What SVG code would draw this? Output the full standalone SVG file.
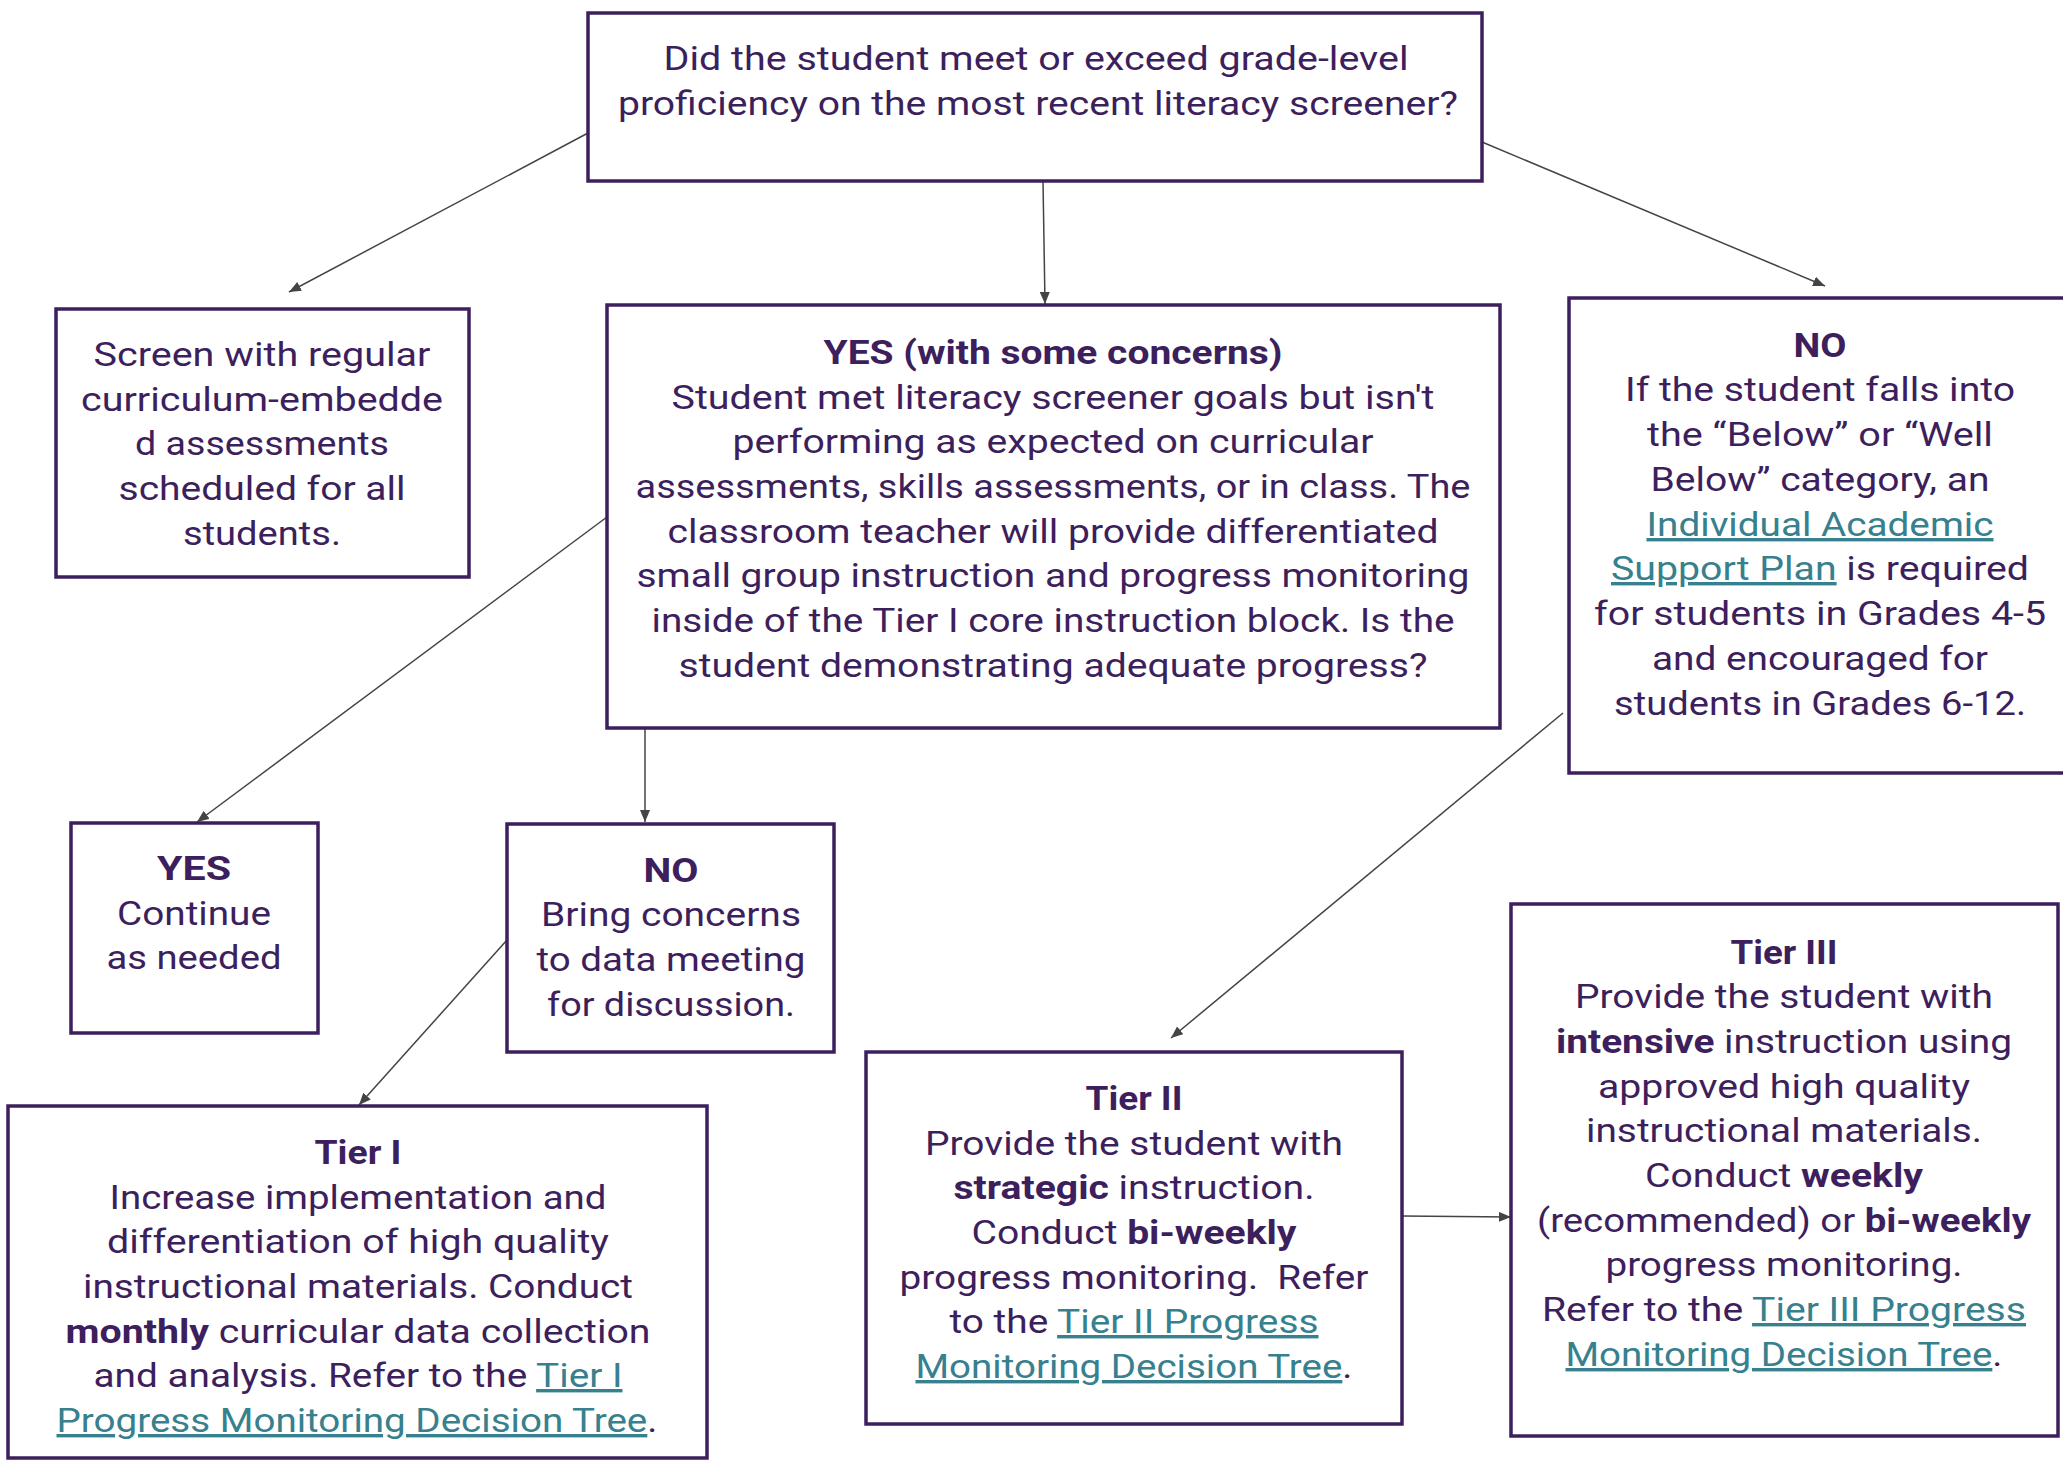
<svg xmlns="http://www.w3.org/2000/svg" width="2063" height="1460" viewBox="0 0 2063 1460">
<style>
.box{fill:#ffffff;stroke:#3d1f5e;stroke-width:3.5}
.t{font-family:Roboto,"Open Sans","Liberation Sans",sans-serif;font-size:34px;fill:#3c1f5c;text-anchor:middle}
.b{font-weight:bold}
.lk{fill:#37808e;text-decoration:underline}
.c{stroke:#444444;stroke-width:1.5;fill:none;marker-end:url(#ah)}
</style>
<defs>
<marker id="ah" markerUnits="userSpaceOnUse" markerWidth="13" markerHeight="10" refX="12" refY="5" orient="auto">
<path d="M0,0 L12,5 L0,10 z" fill="#444444"/>
</marker>
</defs>
<rect width="2063" height="1460" fill="#ffffff"/>

<g id="connectors">
<line class="c" x1="588" y1="133" x2="289" y2="292"/>
<line class="c" x1="1043" y1="181" x2="1045" y2="304"/>
<line class="c" x1="1482" y1="142" x2="1825" y2="286"/>
<line class="c" x1="607" y1="517" x2="197" y2="822"/>
<line class="c" x1="645" y1="729" x2="645" y2="822"/>
<line class="c" x1="507" y1="940" x2="359" y2="1105"/>
<line class="c" x1="1563" y1="713" x2="1171" y2="1038"/>
<line class="c" x1="1402" y1="1216" x2="1511" y2="1217"/>
</g>

<g id="question">
<rect class="box" x="588" y="13" width="894" height="168"/>
<text class="t" x="1036" y="70" textLength="745" lengthAdjust="spacingAndGlyphs">Did the student meet or exceed grade-level</text>
<text class="t" x="1038" y="115" textLength="840" lengthAdjust="spacingAndGlyphs">proficiency on the most recent literacy screener?</text>
</g>

<g id="screen">
<rect class="box" x="56" y="309" width="413" height="268"/>
<text class="t" x="262" y="366" textLength="337" lengthAdjust="spacingAndGlyphs">Screen with regular</text>
<text class="t" x="262" y="411" textLength="362" lengthAdjust="spacingAndGlyphs">curriculum-embedde</text>
<text class="t" x="262" y="455" textLength="254" lengthAdjust="spacingAndGlyphs">d assessments</text>
<text class="t" x="262" y="500" textLength="287" lengthAdjust="spacingAndGlyphs">scheduled for all</text>
<text class="t" x="262" y="545" textLength="158" lengthAdjust="spacingAndGlyphs">students.</text>
</g>

<g id="yes-concerns">
<rect class="box" x="607" y="305" width="893" height="423"/>
<text class="t b" x="1053" y="364" textLength="459" lengthAdjust="spacingAndGlyphs">YES (with some concerns)</text>
<text class="t" x="1053" y="409" textLength="763" lengthAdjust="spacingAndGlyphs">Student met literacy screener goals but isn't</text>
<text class="t" x="1053" y="453" textLength="641" lengthAdjust="spacingAndGlyphs">performing as expected on curricular</text>
<text class="t" x="1053" y="498" textLength="835" lengthAdjust="spacingAndGlyphs">assessments, skills assessments, or in class. The</text>
<text class="t" x="1053" y="543" textLength="771" lengthAdjust="spacingAndGlyphs">classroom teacher will provide differentiated</text>
<text class="t" x="1053" y="587" textLength="833" lengthAdjust="spacingAndGlyphs">small group instruction and progress monitoring</text>
<text class="t" x="1053" y="632" textLength="803" lengthAdjust="spacingAndGlyphs">inside of the Tier I core instruction block. Is the</text>
<text class="t" x="1053" y="677" textLength="749" lengthAdjust="spacingAndGlyphs">student demonstrating adequate progress?</text>
</g>

<g id="no-iasp">
<rect class="box" x="1569" y="298" width="520" height="475"/>
<text class="t b" x="1820" y="357" textLength="53" lengthAdjust="spacingAndGlyphs">NO</text>
<text class="t" x="1820" y="401" textLength="390" lengthAdjust="spacingAndGlyphs">If the student falls into</text>
<text class="t" x="1820" y="446" textLength="346" lengthAdjust="spacingAndGlyphs">the “Below” or “Well</text>
<text class="t" x="1820" y="491" textLength="339" lengthAdjust="spacingAndGlyphs">Below” category, an</text>
<text class="t" x="1820" y="536" textLength="347" lengthAdjust="spacingAndGlyphs"><tspan class="lk">Individual Academic</tspan></text>
<text class="t" x="1820" y="580" textLength="418" lengthAdjust="spacingAndGlyphs"><tspan class="lk">Support Plan</tspan> is required</text>
<text class="t" x="1820" y="625" textLength="452" lengthAdjust="spacingAndGlyphs">for students in Grades 4-5</text>
<text class="t" x="1820" y="670" textLength="336" lengthAdjust="spacingAndGlyphs">and encouraged for</text>
<text class="t" x="1820" y="715" textLength="412" lengthAdjust="spacingAndGlyphs">students in Grades 6-12.</text>
</g>

<g id="yes-continue">
<rect class="box" x="71" y="823" width="247" height="210"/>
<text class="t b" x="194" y="880" textLength="74" lengthAdjust="spacingAndGlyphs">YES</text>
<text class="t" x="194" y="925" textLength="154" lengthAdjust="spacingAndGlyphs">Continue</text>
<text class="t" x="194" y="969" textLength="175" lengthAdjust="spacingAndGlyphs">as needed</text>
</g>

<g id="no-data-meeting">
<rect class="box" x="507" y="824" width="327" height="228"/>
<text class="t b" x="671" y="882" textLength="55" lengthAdjust="spacingAndGlyphs">NO</text>
<text class="t" x="671" y="926" textLength="260" lengthAdjust="spacingAndGlyphs">Bring concerns</text>
<text class="t" x="671" y="971" textLength="269" lengthAdjust="spacingAndGlyphs">to data meeting</text>
<text class="t" x="671" y="1016" textLength="248" lengthAdjust="spacingAndGlyphs">for discussion.</text>
</g>

<g id="tier1">
<rect class="box" x="8" y="1106" width="699" height="352"/>
<text class="t b" x="358" y="1164" textLength="87" lengthAdjust="spacingAndGlyphs">Tier I</text>
<text class="t" x="358" y="1209" textLength="497" lengthAdjust="spacingAndGlyphs">Increase implementation and</text>
<text class="t" x="358" y="1253" textLength="502" lengthAdjust="spacingAndGlyphs">differentiation of high quality</text>
<text class="t" x="358" y="1298" textLength="550" lengthAdjust="spacingAndGlyphs">instructional materials. Conduct</text>
<text class="t" x="358" y="1343" textLength="585" lengthAdjust="spacingAndGlyphs"><tspan class="b">monthly</tspan> curricular data collection</text>
<text class="t" x="358" y="1387" textLength="529" lengthAdjust="spacingAndGlyphs">and analysis. Refer to the <tspan class="lk">Tier I</tspan></text>
<text class="t" x="357" y="1432" textLength="601" lengthAdjust="spacingAndGlyphs"><tspan class="lk">Progress Monitoring Decision Tree</tspan>.</text>
</g>

<g id="tier2">
<rect class="box" x="866" y="1052" width="536" height="372"/>
<text class="t b" x="1134" y="1110" textLength="97" lengthAdjust="spacingAndGlyphs">Tier II</text>
<text class="t" x="1134" y="1155" textLength="418" lengthAdjust="spacingAndGlyphs">Provide the student with</text>
<text class="t" x="1134" y="1199" textLength="361" lengthAdjust="spacingAndGlyphs"><tspan class="b">strategic</tspan> instruction.</text>
<text class="t" x="1134" y="1244" textLength="325" lengthAdjust="spacingAndGlyphs">Conduct <tspan class="b">bi-weekly</tspan></text>
<text class="t" x="1134" y="1289" textLength="469" lengthAdjust="spacingAndGlyphs" style="white-space:pre">progress monitoring.  Refer</text>
<text class="t" x="1134" y="1333" textLength="369" lengthAdjust="spacingAndGlyphs">to the <tspan class="lk">Tier II Progress</tspan></text>
<text class="t" x="1134" y="1378" textLength="437" lengthAdjust="spacingAndGlyphs"><tspan class="lk">Monitoring Decision Tree</tspan>.</text>
</g>

<g id="tier3">
<rect class="box" x="1511" y="904" width="547" height="532"/>
<text class="t b" x="1784" y="964" textLength="107" lengthAdjust="spacingAndGlyphs">Tier III</text>
<text class="t" x="1784" y="1008" textLength="418" lengthAdjust="spacingAndGlyphs">Provide the student with</text>
<text class="t" x="1784" y="1053" textLength="456" lengthAdjust="spacingAndGlyphs"><tspan class="b">intensive</tspan> instruction using</text>
<text class="t" x="1784" y="1098" textLength="372" lengthAdjust="spacingAndGlyphs">approved high quality</text>
<text class="t" x="1784" y="1142" textLength="396" lengthAdjust="spacingAndGlyphs">instructional materials.</text>
<text class="t" x="1784" y="1187" textLength="278" lengthAdjust="spacingAndGlyphs">Conduct <tspan class="b">weekly</tspan></text>
<text class="t" x="1784" y="1232" textLength="494" lengthAdjust="spacingAndGlyphs">(recommended) or <tspan class="b">bi-weekly</tspan></text>
<text class="t" x="1784" y="1276" textLength="357" lengthAdjust="spacingAndGlyphs">progress monitoring.</text>
<text class="t" x="1784" y="1321" textLength="484" lengthAdjust="spacingAndGlyphs">Refer to the <tspan class="lk">Tier III Progress</tspan></text>
<text class="t" x="1784" y="1366" textLength="437" lengthAdjust="spacingAndGlyphs"><tspan class="lk">Monitoring Decision Tree</tspan>.</text>
</g>
</svg>
